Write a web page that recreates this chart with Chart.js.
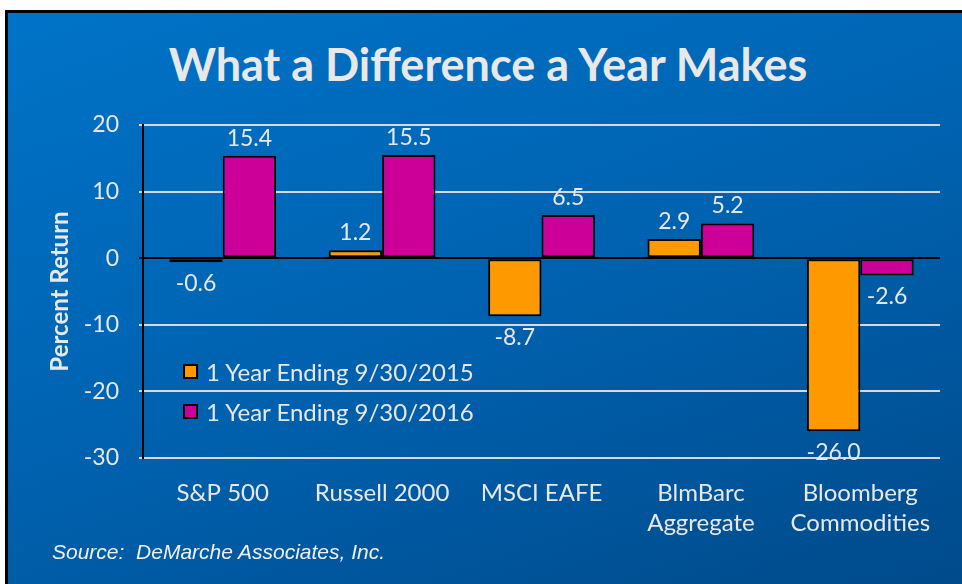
<!DOCTYPE html>
<html>
<head>
<meta charset="utf-8">
<script src="https://cdn.jsdelivr.net/npm/chart.js@4.4.1/dist/chart.umd.min.js"></script>
<style>
  html, body { margin: 0; padding: 0; background: #fff; }
  body { width: 962px; height: 584px; position: relative; overflow: hidden; }
  #slide {
    position: absolute; left: 5px; top: 10px; right: 0; bottom: 0;
    border-top: 3px solid #000; border-left: 3px solid #000;
    background: linear-gradient(160deg, #0073c8 0%, #0062b0 50%, #004a8a 100%);
  }
  #title {
    position: absolute; left: 0; top: 37px; width: 976px; text-align: center;
    font-family: Lato, sans-serif; font-weight: bold; font-size: 45px; color: #e8e8e8;
  }
  #chart-wrap { position: absolute; left: 0; top: 0; width: 962px; height: 584px; }
  .legend { position: absolute; left: 183px; font-family: Lato, sans-serif; font-size: 24px; color: #e8e8e8; }
  .legend span.box { display: inline-block; width: 11px; height: 11px; border: 2px solid #000; margin-right: 8px; vertical-align: 2px; }
  #source {
    position: absolute; left: 52px; top: 540px;
    font-family: "Liberation Sans", Arial, sans-serif; font-style: italic; font-size: 21px; color: #f0f0f0;
  }
</style>
</head>
<body>
<div id="slide"></div>
<div id="title">What a Difference a Year Makes</div>
<div id="chart-wrap"><canvas id="c" width="962" height="584"></canvas></div>
<div class="legend" style="top:357px"><span class="box" style="background:#ff9900"></span>1 Year Ending 9/30/2015</div>
<div class="legend" style="top:397px"><span class="box" style="background:#cc0099"></span>1 Year Ending 9/30/2016</div>
<div id="source">Source:&nbsp; DeMarche Associates, Inc.</div>
<script>
// 数据
const categories = ['S&P 500', 'Russell 2000', 'MSCI EAFE', ['BlmBarc', 'Aggregate'], ['Bloomberg', 'Commodities']];
const seriesNames = ['1 Year Ending 9/30/2015', '1 Year Ending 9/30/2016'];
const returns2015 = [-0.6, 1.2, -8.7, 2.9, -26.0];
const returns2016 = [15.4, 15.5, 6.5, 5.2, -2.6];
const yTicks = [20, 10, 0, -10, -20, -30];

const textColor = '#e8e8e8';
const font = 'Lato, sans-serif';

// 柱子上的数值标签
const valueLabels = {
  id: 'valueLabels',
  afterDatasetsDraw(chart) {
    const ctx = chart.ctx;
    ctx.save();
    ctx.font = '23px ' + font;
    ctx.fillStyle = textColor;
    ctx.textAlign = 'center';
    chart.data.datasets.forEach((ds, i) => {
      chart.getDatasetMeta(i).data.forEach((bar, j) => {
        const v = ds.data[j];
        if (v >= 0) {
          ctx.textBaseline = 'bottom';
          ctx.fillText(v.toFixed(1), bar.x, bar.y - 6);
        } else {
          ctx.textBaseline = 'top';
          ctx.fillText(v.toFixed(1), bar.x, bar.y + 10);
        }
      });
    });
    ctx.restore();
  }
};

new Chart(document.getElementById('c'), {
  type: 'bar',
  data: {
    labels: categories,
    datasets: [
      { label: seriesNames[0], data: returns2015, backgroundColor: '#ff9900', borderColor: '#000', borderWidth: 2, borderSkipped: false },
      { label: seriesNames[1], data: returns2016, backgroundColor: '#cc0099', borderColor: '#000', borderWidth: 2, borderSkipped: false }
    ]
  },
  options: {
    responsive: false,
    animation: false,
    layout: { padding: { top: 125, right: 22, left: 0, bottom: 0 } },
    datasets: { bar: { categoryPercentage: 0.67, barPercentage: 1 } },
    plugins: { legend: { display: false }, tooltip: { enabled: false } },
    scales: {
      x: {
        grid: { display: false },
        border: { display: false },
        ticks: { color: textColor, font: { family: font, size: 24, lineHeight: 1.25 }, padding: 12, maxRotation: 0 },
        afterFit: s => { s.height = 126; }
      },
      y: {
        min: -30, max: 20,
        afterBuildTicks: s => { s.ticks = yTicks.map(v => ({ value: v })); },
        grid: {
          color: c => c.tick && c.tick.value === 0 ? '#000' : '#d9d9d9',
          lineWidth: 2,
          drawTicks: true,
          tickLength: 4
        },
        border: { color: '#000', width: 2 },
        ticks: { color: textColor, font: { family: font, size: 23 }, padding: 20 },
        title: {
          display: true, text: 'Percent Return', color: textColor,
          font: { family: font, size: 24, weight: 'bold' },
          padding: { top: 46, bottom: 0 }
        },
        afterFit: s => { s.width = 143; }
      }
    }
  },
  plugins: [valueLabels]
});
</script>
</body>
</html>
